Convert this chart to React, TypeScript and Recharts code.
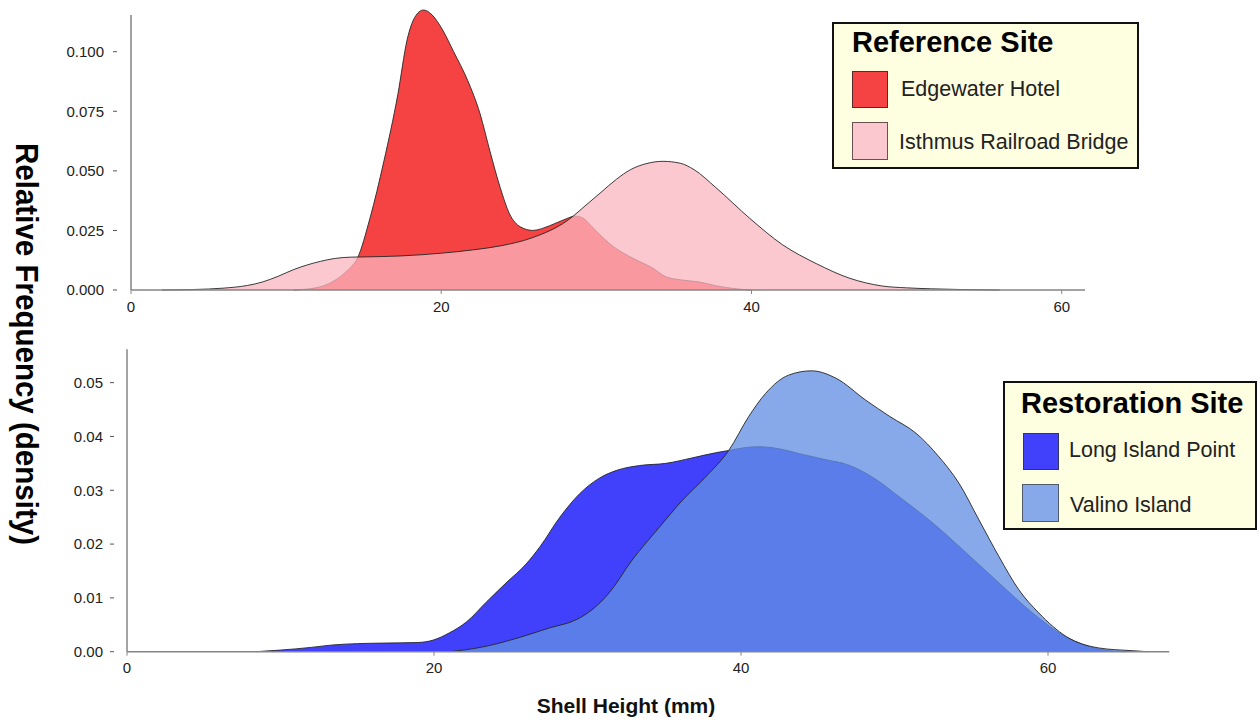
import { ComposedChart, Area, XAxis, YAxis, ReferenceLine } from 'recharts';

const FONT = '"Liberation Sans", Arial, Helvetica, sans-serif';

// Reference sites (top panel) – density curves
const edgewaterX = [10.5, 12, 13, 14, 14.6, 15.4, 16.3, 17.2, 17.8, 18.3, 18.85, 19.4, 20.1, 20.8, 21.7, 22.5, 23.15, 23.8, 24.4, 25.1, 25.9, 27.0, 28.1, 28.6, 29.1, 29.8, 30.5, 31.1, 32.3, 33.6, 34.5, 35.5, 36.6, 37.7, 39, 40];
const edgewaterY = [0, 0.001, 0.0035, 0.0085, 0.0134, 0.03, 0.054, 0.082, 0.105, 0.1145, 0.1175, 0.1155, 0.109, 0.1, 0.088, 0.074, 0.058, 0.043, 0.032, 0.0265, 0.025, 0.027, 0.03, 0.031, 0.0303, 0.026, 0.0215, 0.0182, 0.0135, 0.0093, 0.0055, 0.0042, 0.0034, 0.0018, 0.0005, 0];
const isthmusX = [2, 4, 6, 7.5, 8.5, 9.5, 10.5, 11.3, 12.2, 13.1, 14.2, 15.2, 17.4, 20.1, 22, 23.8, 25.9, 28.1, 29.4, 30.3, 31.3, 32.2, 33.2, 34.3, 35.4, 36.3, 37.7, 39.9, 42.0, 44.2, 46.3, 48.4, 50, 51.6, 53.5, 56];
const isthmusY = [0, 0.0002, 0.0008, 0.0019, 0.0034, 0.0058, 0.0086, 0.0104, 0.012, 0.0132, 0.0138, 0.0139, 0.0143, 0.0155, 0.0168, 0.0185, 0.022, 0.029, 0.036, 0.041, 0.0465, 0.0505, 0.053, 0.054, 0.0532, 0.0505, 0.043, 0.03, 0.019, 0.011, 0.005, 0.0017, 0.0009, 0.0005, 0.0002, 0];

// Restoration sites (bottom panel)
const longIslandX = [8.4, 10, 12, 13.4, 15, 16.7, 18.9, 20, 21, 22.1, 23.4, 24.7, 26.0, 26.9, 28.2, 29.5, 30.8, 31.9, 33.4, 35.1, 36.8, 38.4, 39.2, 40.2, 41.1, 42.5, 43.8, 45.5, 47, 48.8, 50.3, 52.5, 54.7, 56.8, 59.0, 61.2, 63.3, 65];
const longIslandY = [0, 0.0003, 0.0008, 0.00125, 0.0015, 0.0016, 0.0017, 0.0022, 0.0035, 0.0055, 0.0092, 0.0128, 0.0163, 0.0195, 0.025, 0.0294, 0.0323, 0.0337, 0.0346, 0.035, 0.036, 0.037, 0.0374, 0.0379, 0.0381, 0.0377, 0.0368, 0.0357, 0.0347, 0.032, 0.0288, 0.0239, 0.0183, 0.0128, 0.0072, 0.0027, 0.0005, 0];
const valinoX = [21, 23.2, 25.4, 27.5, 29.3, 30.3, 31.4, 32.9, 34.7, 36.2, 37.7, 39.2, 40.5, 41.6, 43.1, 44.6, 46.2, 48.1, 49.7, 51.4, 52.9, 54.2, 55.5, 56.8, 58.1, 59.4, 61.2, 63.3, 65.4, 66.5];
const valinoY = [0, 0.0009, 0.0025, 0.0044, 0.006, 0.0078, 0.0109, 0.017, 0.0232, 0.0282, 0.0325, 0.0374, 0.0437, 0.048, 0.0514, 0.0522, 0.0508, 0.0468, 0.0437, 0.0406, 0.0362, 0.0313, 0.0245, 0.0177, 0.0115, 0.0072, 0.0028, 0.0007, 0.0002, 0];

const xTicks = [0, 20, 40, 60];
const topYTicks = [0, 0.025, 0.05, 0.075, 0.1];
const bottomYTicks = [0, 0.01, 0.02, 0.03, 0.04, 0.05];

const topSeries = ['Edgewater Hotel', 'Isthmus Railroad Bridge'];
const bottomSeries = ['Long Island Point', 'Valino Island'];

const toPoints = (xs: number[], ys: number[]) => xs.map((x, i) => ({ x, y: ys[i] }));

const edgewater = toPoints(edgewaterX, edgewaterY);
const isthmus = toPoints(isthmusX, isthmusY);
const longIsland = toPoints(longIslandX, longIslandY);
const valino = toPoints(valinoX, valinoY);

const AXIS = '#858585';
const OUTLINE = '#262626';

function yTick(digits: number, labelGap: number, dashFrom: number) {
  return (props: any) => {
    const { x, y, payload } = props;
    return (
      <g>
        <text x={x - labelGap} y={y} dy="0.35em" textAnchor="end" fontSize={15} fontFamily={FONT} fill="#222">
          {Number(payload.value).toFixed(digits)}
        </text>
        <line x1={x - dashFrom} x2={x - dashFrom + 4} y1={y} y2={y} stroke="#555" strokeWidth={1} />
      </g>
    );
  };
}

const xTick = (props: any) => {
  const { x, y, payload } = props;
  return (
    <text x={x} y={y} dy="0.71em" textAnchor="middle" fontSize={15} fontFamily={FONT} fill="#222">
      {payload.value}
    </text>
  );
};

const xAxisProps = {
  dataKey: 'x',
  type: 'number' as const,
  ticks: xTicks,
  interval: 0 as const,
  height: 30,
  tickSize: 4,
  tickMargin: 7,
  axisLine: { stroke: AXIS, strokeWidth: 1.5 },
  tickLine: { stroke: AXIS },
  tick: xTick,
};

export default function App() {
  return (
    <div style={{ position: 'absolute', left: 0, top: 0, width: 1258, height: 721, background: '#fff', fontFamily: FONT }}>
      <div style={{ position: 'absolute', left: 0, top: 0 }}>
        <ComposedChart width={1258} height={330} margin={{ top: 8, right: 173, bottom: 10, left: 0 }}>
          <XAxis {...xAxisProps} domain={[0, 61.5]} />
          <YAxis
            type="number"
            domain={[0, 0.11834]}
            ticks={topYTicks}
            width={131}
            axisLine={false}
            tickLine={false}
            tickSize={0}
            tickMargin={0}
            tick={yTick(3, 27, 18)}
          />
          <ReferenceLine segment={[{ x: 0, y: 0 }, { x: 0, y: 0.1154 }]} stroke={AXIS} strokeWidth={1.5} />
          <Area data={edgewater} dataKey="y" type="monotone" fill="#f54242" fillOpacity={1} stroke={OUTLINE} strokeWidth={0.9} isAnimationActive={false} />
          <Area data={isthmus} dataKey="y" type="monotone" fill="rgb(251,182,192)" fillOpacity={0.75} stroke={OUTLINE} strokeWidth={0.9} isAnimationActive={false} />
        </ComposedChart>
      </div>

      <div style={{ position: 'absolute', left: 0, top: 330 }}>
        <ComposedChart width={1258} height={370} margin={{ top: 19.3, right: 88.7, bottom: 18.3, left: 0 }}>
          <XAxis {...xAxisProps} domain={[0, 67.9]} />
          <YAxis
            type="number"
            domain={[0, 0.0562]}
            ticks={bottomYTicks}
            width={127}
            axisLine={{ stroke: AXIS, strokeWidth: 1.5 }}
            tickLine={false}
            tickSize={0}
            tickMargin={0}
            tick={yTick(2, 24, 17)}
          />
          <Area data={longIsland} dataKey="y" type="monotone" fill="#4141fb" fillOpacity={1} stroke={OUTLINE} strokeWidth={0.9} isAnimationActive={false} />
          <Area data={valino} dataKey="y" type="monotone" fill="rgb(99,143,228)" fillOpacity={0.77} stroke={OUTLINE} strokeWidth={0.9} isAnimationActive={false} />
        </ComposedChart>
      </div>

      <svg width={1258} height={721} style={{ position: 'absolute', left: 0, top: 0, pointerEvents: 'none' }}>
        <text
          x={15.5}
          y={344}
          transform="rotate(90 15.5 344)"
          textAnchor="middle"
          fontFamily={FONT}
          fontWeight="bold"
          fontSize={31}
          textLength={402}
          lengthAdjust="spacingAndGlyphs"
          fill="#000"
        >
          Relative Frequency (density)
        </text>
        <text x={626} y={713} textAnchor="middle" fontFamily={FONT} fontWeight="bold" fontSize={21} fill="#111">
          Shell Height (mm)
        </text>

        {/* Reference Site legend */}
        <rect x={833} y={23} width={305} height={145} fill="#fefee0" stroke="#111" strokeWidth={2} />
        <text x={852} y={52} fontFamily={FONT} fontWeight="bold" fontSize={29} fill="#000">Reference Site</text>
        <rect x={852.5} y={71.5} width={35} height={36} fill="#f54242" stroke="#5a2a2a" strokeWidth={1} />
        <text x={901} y={96} fontFamily={FONT} fontSize={21.5} fill="#222">{topSeries[0]}</text>
        <rect x={852.5} y={122.5} width={35} height={37} fill="#fcc8d0" stroke="#6a5050" strokeWidth={1} />
        <text x={899} y={149} fontFamily={FONT} fontSize={21.5} fill="#222">{topSeries[1]}</text>

        {/* Restoration Site legend */}
        <rect x={1004} y={382} width={252} height={147} fill="#fefee0" stroke="#111" strokeWidth={2} />
        <text x={1021} y={413} fontFamily={FONT} fontWeight="bold" fontSize={29} fill="#000">Restoration Site</text>
        <rect x={1023.5} y={433.5} width={35} height={36} fill="#4141fb" stroke="#333366" strokeWidth={1} />
        <text x={1069} y={457} fontFamily={FONT} fontSize={21.5} fill="#222">{bottomSeries[0]}</text>
        <rect x={1022.5} y={484.5} width={36} height={37} fill="#87a9ea" stroke="#505a6a" strokeWidth={1} />
        <text x={1070} y={512} fontFamily={FONT} fontSize={21.5} fill="#222">{bottomSeries[1]}</text>
      </svg>
    </div>
  );
}
